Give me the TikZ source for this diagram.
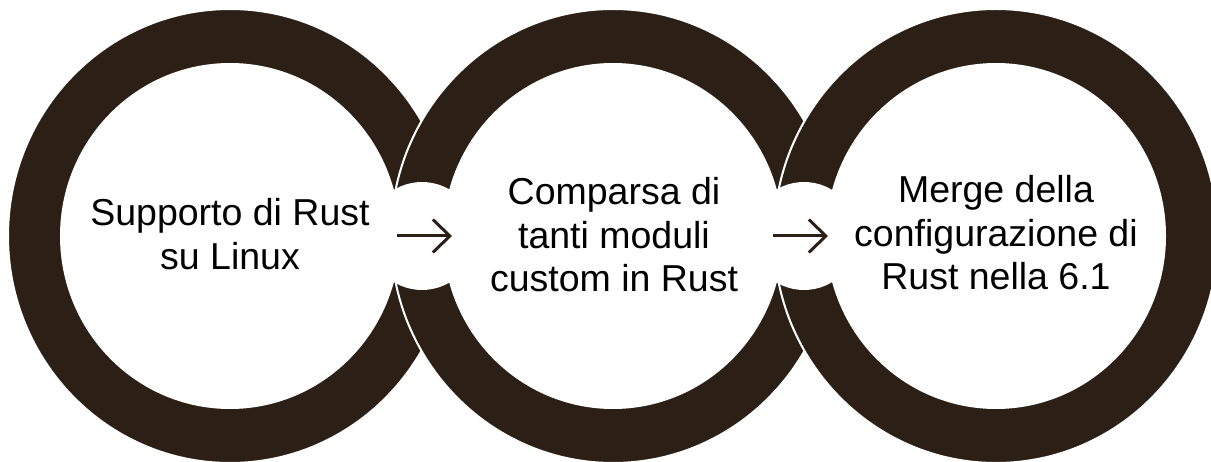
\documentclass[tikz,border=0pt]{standalone}
\usepackage{fontspec}
\setmainfont{Liberation Sans}
\usetikzlibrary{shapes.geometric,arrows.meta}

\tikzstyle{ring-outer}=[ellipse, inner sep=0pt, minimum width=444pt, minimum height=454pt, fill=Ring, draw=white, line width=2pt]
\tikzstyle{ring-hole}=[ellipse, inner sep=0pt, minimum width=340pt, minimum height=346pt, fill=white]
\tikzstyle{ring-gap}=[circle, inner sep=0pt, minimum size=108pt, fill=white]
\tikzstyle{ring-label}=[align=center, font=\fontsize{37.5}{43.5}\selectfont]
\tikzstyle{next-arrow}=[draw=Ring, line width=3pt, -{Straight Barb[length=17pt, width=33pt]}]
\definecolor{Ring}{HTML}{2C1F15}

\begin{document}
\begin{tikzpicture}[x=1pt, y=1pt]
      \useasboundingbox (0,0) rectangle (1211,461);

      \node (ring-1) at (230,225) [ring-outer] {};
      \node (hole-1) at (ring-1.center) [ring-hole] {};
      \node (ring-2) at (613,225) [ring-outer] {};
      \node (hole-2) at (ring-2.center) [ring-hole] {};
      \node (ring-3) at (996,225) [ring-outer] {};
      \node (hole-3) at (ring-3.center) [ring-hole] {};

      \node (gap-1) at (422,225) [ring-gap] {};
      \node (gap-2) at (804,225) [ring-gap] {};

      \node (text-1) at (230,227) [ring-label] {Supporto di Rust\\su Linux};
      \node (text-2) at (614,226) [ring-label] {Comparsa di\\tanti moduli\\custom in Rust};
      \node (text-3) at (996,228) [ring-label] {Merge della\\configurazione di\\Rust nella 6.1};

      \draw [next-arrow] ([xshift=-25pt]gap-1.center) -- ([xshift=30pt]gap-1.center);
      \draw [next-arrow] ([xshift=-31pt]gap-2.center) -- ([xshift=24pt]gap-2.center);
    \end{tikzpicture}
\end{document}
